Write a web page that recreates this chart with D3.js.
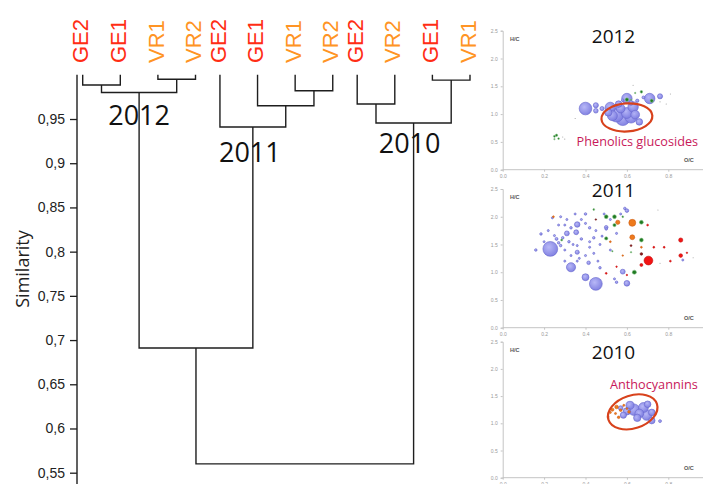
<!DOCTYPE html>
<html><head><meta charset="utf-8">
<script src="https://cdn.jsdelivr.net/npm/d3@7"></script>
<style>html,body{margin:0;padding:0;background:#fff;} svg{display:block}</style>
</head><body><svg id="fig" width="703" height="484"></svg>
<script>
// ---------- Dendrogram data ----------
const years = ["2012", "2011", "2010"];
const leafNames = [
  ["GE2", "GE1", "VR1", "VR2"],
  ["GE2", "GE1", "VR1", "VR2"],
  ["GE2", "VR2", "GE1", "VR1"]
];
// merges: [left node, right node]; leaves are 0..11, merge k creates node 12+k
const mergePairs = [
  [0, 1], [2, 3], [12, 13],          // 2012
  [6, 7], [5, 15], [4, 16],          // 2011
  [8, 9], [10, 11], [18, 19],        // 2010
  [14, 17], [21, 20]                 // between years
];
const mergeSimilarity = [
  0.9885, 0.995, 0.980,
  0.982, 0.965, 0.941,
  0.967, 0.994, 0.9455,
  0.691, 0.560
];
const simTicks = [0.95, 0.9, 0.85, 0.8, 0.75, 0.7, 0.65, 0.6, 0.55];

// ---------- Van Krevelen panels: [O/C, H/C, abundance, class] ----------
// class: 0 blue, 1 green, 2 orange, 3 red, 4 dark red, 5 grey
const points2012 = [
  [0.40,1.10,73,0],[0.45,1.16,12,0],[0.45,1.06,10,0],[0.48,1.10,8,0],[0.52,1.12,50,0],
  [0.53,0.97,45,0],[0.55,0.98,85,0],[0.58,0.92,90,0],[0.62,0.95,70,0],[0.60,1.02,55,0],
  [0.57,1.10,35,0],[0.63,1.13,50,0],[0.64,0.99,35,0],[0.66,0.86,20,0],[0.60,1.28,50,0],
  [0.71,1.28,50,0],[0.76,1.32,12,0],[0.65,1.24,5,0],[0.68,1.30,4,0],[0.58,1.25,3,0],
  [0.62,1.20,10,0],[0.51,1.03,25,0],[0.56,1.18,20,0],
  [0.60,1.26,6,1],[0.72,1.24,5,1],[0.67,1.40,3,1],[0.64,1.38,1,1],[0.25,0.60,2,1],
  [0.26,0.62,2.5,1],[0.27,0.56,1.5,1],[0.25,0.55,1,1],[0.62,1.26,1,1],
  [0.76,1.22,0.5,5],[0.81,1.36,0.5,5],[0.79,1.18,0.5,5],[0.35,0.92,0.5,5],[0.63,1.52,0.5,5],
  [0.30,0.55,0.5,5],[0.29,0.59,0.4,5]
];
const points2011 = [
  [0.23,1.42,100,0],[0.33,1.09,38,0],[0.45,0.79,75,0],[0.40,0.91,22,0],[0.60,0.80,15,0],
  [0.58,1.01,11,0],[0.36,1.86,14,0],[0.355,1.72,11,0],[0.31,1.70,11,0],[0.36,1.36,8,0],
  [0.415,1.17,6,0],[0.185,1.69,3,0],[0.16,1.40,3,0],[0.60,2.11,6,0],[0.50,1.81,6,0],
  [0.55,0.82,3,0],
  [0.26,1.60,4,0],[0.27,1.53,3,0],[0.29,1.62,3,0],[0.25,1.66,2,0],[0.28,1.48,3,0],
  [0.30,1.40,2,0],[0.32,1.55,3,0],[0.34,1.50,2,0],[0.33,1.80,3,0],[0.30,1.85,2,0],
  [0.28,2.00,2,0],[0.31,1.95,2,0],[0.38,1.95,2,0],[0.40,2.05,3,0],[0.40,1.88,2,0],
  [0.42,1.80,3,0],[0.45,1.75,2,0],[0.44,1.62,3,0],[0.42,1.55,2,0],[0.38,1.60,3,0],
  [0.36,1.48,2,0],[0.37,1.25,2,0],[0.40,1.30,2,0],[0.44,1.34,2,0],[0.46,1.20,2,0],
  [0.47,1.50,2,0],[0.48,1.65,2,0],[0.50,1.78,3,0],[0.52,1.95,2,0],[0.55,1.70,2,0],
  [0.57,2.05,2,0],[0.59,2.15,3,0],[0.47,1.08,3,0],[0.54,0.88,2,0],[0.36,1.20,2,0],
  [0.33,1.30,2,0],[0.42,1.45,2,0],[0.20,1.55,2,0],[0.22,1.75,2,0],[0.24,1.98,2,0],
  [0.35,2.05,2,0],[0.49,2.05,2,0],[0.30,1.20,2,0],[0.52,1.40,2,0],[0.27,1.85,2,0],
  [0.87,1.22,2,0],
  [0.50,2.00,7,1],[0.54,2.00,7,1],[0.54,1.85,5,1],[0.50,1.61,5,1],[0.67,1.90,7,1],
  [0.67,1.58,7,1],[0.636,1.00,8,1],[0.44,2.13,1.5,1],[0.58,2.00,1.5,1],[0.285,1.58,2,1],
  [0.53,1.38,1,1],[0.62,1.36,1,1],
  [0.626,1.89,22,2],[0.556,1.90,8,2],[0.626,1.63,11,2],[0.245,2.00,1.5,2],[0.67,1.45,1.5,2],
  [0.52,1.55,1.5,2],[0.58,1.30,1,2],
  [0.704,1.21,35,3],[0.86,1.58,8,3],[0.86,1.30,6,3],[0.67,1.13,4,3],[0.50,0.98,1.5,3],
  [0.73,1.45,1.5,3],[0.78,1.45,1.5,3],[0.81,1.20,1.5,3],[0.89,1.35,1,3],[0.70,1.85,1.5,3],
  [0.60,0.95,1,3],[0.55,1.10,1,3],
  [0.67,1.33,3,4],[0.62,1.48,1.5,4],[0.45,1.95,1,4],
  [0.75,2.12,0.5,5],[0.76,1.16,0.5,5],[0.92,1.26,0.5,5]
];
const points2010 = [
  [0.634,1.25,60,0],[0.68,1.29,45,0],[0.696,1.15,50,0],[0.66,1.18,35,0],[0.615,1.33,30,0],
  [0.72,1.05,20,0],[0.583,1.15,18,0],[0.76,1.04,4,0],[0.60,1.22,25,0],[0.70,1.35,20,0],
  [0.65,1.10,25,0],[0.72,1.20,20,0],[0.57,1.28,10,0],
  [0.52,1.20,2,2],[0.53,1.25,4,2],[0.55,1.30,6,2],[0.56,1.11,3,2],[0.57,1.24,3,2],
  [0.585,1.33,2,2],[0.51,1.12,1,2],[0.61,1.21,3,2],[0.545,1.18,2,2],[0.60,1.27,1.5,2]
];
const panelPoints = [points2012, points2011, points2010];
const ocTicks = [0, 0.2, 0.4, 0.6, 0.8];
const hcTicks = [0, 0.5, 1, 1.5, 2, 2.5];
// highlighted compound families: [panel, centre O/C, centre H/C, label O/C, label H/C, text]
const highlights = [
  [0, 0.60, 0.94, 0.357, 0.43, "Phenolics glucosides"],
  [2, 0.628, 1.21, 0.518, 1.625, "Anthocyannins"]
];

// ---------- Drawing ----------
const svg = d3.select("#fig");
const ink = "#1e1e1e";

// Dendrogram scales
const y = d3.scaleLinear().domain([0.55, 1.0]).range([472.7, 74.8]);
const slot = d3.scaleLinear().domain([0, 10.3]).range([82.7, 470]);
const groupGap = 3.65;

const nodeX = [], nodeY = [];
leafNames.forEach((names, g) => names.forEach((n, i) => {
  nodeX.push(slot(g * groupGap + i));
  nodeY.push(y(1.0));
}));
mergePairs.forEach(([a, b], k) => {
  nodeX.push((nodeX[a] + nodeX[b]) / 2);
  nodeY.push(y(mergeSimilarity[k]));
});

// axis
const axis = d3.axisLeft(y).tickValues(simTicks).tickSize(7).tickPadding(5)
  .tickFormat(d => String(d).replace(".", ","));
const ax = svg.append("g").attr("transform", "translate(77,0)").call(axis);
ax.select(".domain").remove();
ax.selectAll(".tick line").attr("stroke", ink).attr("stroke-width", 1.3);
ax.selectAll(".tick text").attr("fill", "#222")
  .style("font", "14px 'Liberation Sans', Arial, sans-serif");
svg.append("line").attr("x1", 77).attr("x2", 77).attr("y1", y(1.0)).attr("y2", 490)
  .attr("stroke", ink).attr("stroke-width", 1.4);

svg.append("text").attr("transform", "translate(29,269) rotate(-90)")
  .attr("text-anchor", "middle").attr("fill", "#222")
  .style("font", "18px 'Open Sans', sans-serif").text("Similarity");

// links
const links = svg.append("g").attr("fill", "none").attr("stroke", ink).attr("stroke-width", 1.4);
mergePairs.forEach(([a, b], k) => {
  const yy = y(mergeSimilarity[k]);
  const p = d3.path();
  p.moveTo(nodeX[a], nodeY[a]); p.lineTo(nodeX[a], yy);
  p.lineTo(nodeX[b], yy); p.lineTo(nodeX[b], nodeY[b]);
  links.append("path").attr("d", p.toString());
});

// leaf labels
leafNames.forEach((names, g) => names.forEach((n, i) => {
  svg.append("text")
    .attr("transform", `translate(${slot(g * groupGap + i) + 5.6},63) rotate(-90)`)
    .attr("fill", n.startsWith("GE") ? "#ff2d14" : "#ff9424")
    .style("font", "22px 'Liberation Sans', Arial, sans-serif").text(n);
}));

// year labels under each year cluster
const yearNode = [14, 17, 20];
const yearDx = [0, -3, -4], yearBase = [125, 161.7, 152.7];
years.forEach((yr, g) => {
  svg.append("text").attr("x", nodeX[yearNode[g]] + yearDx[g]).attr("y", yearBase[g])
    .attr("text-anchor", "middle").attr("fill", "#111")
    .style("font", "27px 'Open Sans', sans-serif").text(yr);
});

// ---------- Van Krevelen panels ----------
const panelTop = [30.7, 189, 341.7], panelBottom = [169.7, 327.7, 477.7];
const titleBase = [43.3, 196.7, 359.3];
const x = d3.scaleLinear().domain([0, 1]).range([502.7, 709.7]);
const r = d3.scaleSqrt().domain([0, 100]).range([0, 7.4]);
const defs = svg.append("defs");
const grad = defs.append("radialGradient").attr("id", "blueBall").attr("cx", "40%").attr("cy", "38%").attr("r", "65%");
grad.append("stop").attr("offset", "0%").attr("stop-color", "#b4b4f6");
grad.append("stop").attr("offset", "100%").attr("stop-color", "#7a7ae0");
const classFill = ["url(#blueBall)", "#1f7a22", "#ee7a1c", "#f21414", "#8e1b1b", "#9a9a9a"];
const classStroke = ["#6666cc", "#8ec68e", "#cc5d14", "#c20c0c", "#6a1010", "#9a9a9a"];

panelPoints.forEach((pts, pi) => {
  const py = d3.scaleLinear().domain([0, 2.5]).range([panelBottom[pi], panelTop[pi]]);
  const g = svg.append("g");
  const yAx = d3.axisLeft(py).tickValues(hcTicks).tickSize(2).tickPadding(3);
  const xAx = d3.axisBottom(x).tickValues(ocTicks).tickSize(2).tickPadding(3);
  const ga = g.append("g").attr("transform", `translate(${x(0)},0)`).call(yAx);
  const gb = g.append("g").attr("transform", `translate(0,${py(0)})`).call(xAx);
  gb.select(".domain").attr("d", `M${x(0)},0H703`);
  [ga, gb].forEach(s => {
    s.selectAll("path,line").attr("stroke", "#c4c4c4").attr("stroke-width", 1);
    s.selectAll("text").attr("fill", "#9a9a9a").style("font", "5px 'Liberation Sans', Arial, sans-serif");
  });
  g.append("text").attr("x", 510).attr("y", py(2.5) + 10).attr("fill", "#555")
    .style("font", "bold 5.5px 'Liberation Sans', Arial, sans-serif").text("H/C");
  g.append("text").attr("x", 684).attr("y", py(0) - 8).attr("fill", "#555")
    .style("font", "bold 5.5px 'Liberation Sans', Arial, sans-serif").text("O/C");
  g.append("text").attr("x", 613.5).attr("y", titleBase[pi]).attr("text-anchor", "middle")
    .attr("fill", "#111").style("font", "19px 'Open Sans', sans-serif").text(years[pi]);

  const sorted = pts.slice().sort((a, b) => (a[3] === 0 ? 0 : 1) - (b[3] === 0 ? 0 : 1) || b[2] - a[2]);
  g.append("g").selectAll("circle").data(sorted).join("circle")
    .attr("cx", d => x(d[0])).attr("cy", d => py(d[1])).attr("r", d => Math.max(0.5, r(d[2])))
    .attr("fill", d => classFill[d[3]]).attr("stroke", d => classStroke[d[3]])
    .attr("stroke-width", d => d[3] === 5 ? 0 : 0.6).attr("fill-opacity", d => d[3] === 0 ? 0.95 : 1);

  highlights.filter(h => h[0] === pi).forEach(h => {
    const rot = pi === 0 ? -4 : -18;
    const ry = pi === 0 ? 14 : 16.5;
    g.append("ellipse").attr("transform", `translate(${x(h[1])},${py(h[2])}) rotate(${rot})`)
      .attr("rx", 25.5).attr("ry", ry).attr("fill", "none")
      .attr("stroke", "#d8421c").attr("stroke-width", 2.2);
    g.append("text").attr("x", x(h[3])).attr("y", py(h[4])).attr("fill", "#c8195a")
      .style("font", "12.7px 'Open Sans', sans-serif").text(h[5]);
  });
});
</script></body></html>
